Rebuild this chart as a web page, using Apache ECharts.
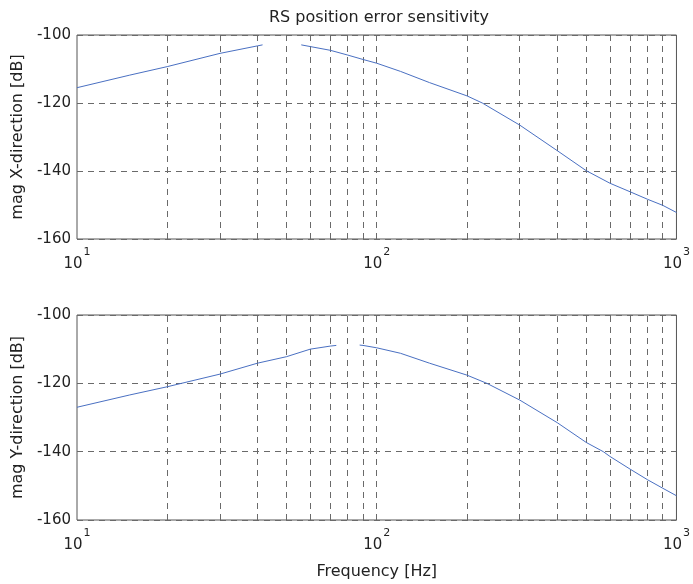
<!DOCTYPE html>
<html>
<head>
<meta charset="utf-8">
<script src="https://cdn.jsdelivr.net/npm/echarts@6/dist/echarts.min.js"></script>
<style>
html,body{margin:0;padding:0;background:#fff;}
#c{width:693px;height:584px;}
</style>
</head>
<body>
<div id="c"></div>
<script>
// ---- data ----
var titleText = 'RS position error sensitivity';
var yLabelTop = 'mag X-direction [dB]';
var yLabelBottom = 'mag Y-direction [dB]';
var xLabel = 'Frequency [Hz]';

// X-direction, segment before gap
var freqX1 = [10, 15, 20, 30, 40, 41.6];
var magX1  = [-115.5, -111.8, -109.3, -105.4, -103.2, -102.9];
// X-direction, segment after gap
var freqX2 = [56, 60, 70, 80, 90, 100, 120, 150, 200, 225, 300, 400, 500, 600, 700, 800, 900, 1000];
var magX2  = [-102.9, -103.4, -104.5, -105.9, -107.2, -108.3, -110.7, -114.0, -117.9, -120.0, -126.5, -134.0, -139.9, -143.6, -146.1, -148.3, -150.1, -152.2];

// Y-direction, segment before gap
var freqY1 = [10, 15, 20, 30, 40, 50, 60, 70, 73.3];
var magY1  = [-127.0, -123.4, -121.0, -117.3, -114.1, -112.2, -110.0, -109.1, -108.9];
// Y-direction, segment after gap
var freqY2 = [87.7, 90, 100, 120, 150, 200, 233, 300, 400, 500, 570, 600, 700, 800, 900, 1000];
var magY2  = [-108.8, -108.9, -109.6, -111.2, -114.1, -117.6, -120.0, -124.9, -131.5, -137.3, -140.0, -141.4, -145.1, -148.2, -150.7, -152.9];

// grid lines / ticks
var xGridValues = [20, 30, 40, 50, 60, 70, 80, 90, 100, 200, 300, 400, 500, 600, 700, 800, 900];
var yMin = -160, yMax = -100, yStep = 20;
var xMin = 10, xMax = 1000;

function pairs(xs, ys) { return xs.map(function (x, i) { return [x, ys[i]]; }); }

var FONT = 'DejaVu Sans';
var TXT = '#222';
var LINE = '#4a70c2';
var GRIDC = '#6a6a6a';

function xAxisCfg(idx, withName) {
  var a = {
    type: 'log', logBase: 10, gridIndex: idx, min: xMin, max: xMax,
    axisLine: {show: false},
    axisTick: {show: false},
    splitLine: {show: false},
    minorTick: {show: false},
    axisLabel: {
      margin: 8,
      color: TXT,
      formatter: function (v) { return '{b|10}{s|' + Math.round(Math.log10(v)) + '}'; },
      rich: {
        b: {fontFamily: FONT, fontSize: 15, color: TXT, verticalAlign: 'top', padding: [10, 0, 0, 0]},
        s: {fontFamily: FONT, fontSize: 11, color: TXT, verticalAlign: 'top', padding: [0, 0, 0, 1]}
      }
    }
  };
  if (withName) {
    a.name = xLabel;
    a.nameLocation = 'middle';
    a.nameGap = 44;
    a.nameTextStyle = {fontFamily: FONT, fontSize: 16, color: TXT};
  }
  return a;
}
function yAxisCfg(idx, name) {
  return {
    type: 'value', gridIndex: idx, min: yMin, max: yMax, interval: yStep,
    name: name, nameLocation: 'middle', nameGap: 43, nameRotate: 90,
    nameTextStyle: {fontFamily: FONT, fontSize: 16, color: TXT},
    axisLine: {show: false},
    axisTick: {show: false},
    axisLabel: {fontFamily: FONT, fontSize: 15, color: TXT, margin: 6},
    splitLine: {show: true, lineStyle: {color: GRIDC, type: [6, 5], width: 1}}
  };
}
function vGrid() {
  return {
    silent: true, symbol: ['none', 'none'], label: {show: false},
    lineStyle: {color: GRIDC, type: [6, 5], width: 1},
    data: xGridValues.map(function (v) { return {xAxis: v}; })
  };
}
function lineSeries(idx, data, mark) {
  var s = {
    type: 'line', xAxisIndex: idx, yAxisIndex: idx, data: data,
    showSymbol: false, symbol: 'none', smooth: false, animation: false,
    lineStyle: {color: LINE, width: 1}, itemStyle: {color: LINE}, z: 5
  };
  if (mark) s.markLine = vGrid();
  return s;
}

var chart = echarts.init(document.getElementById('c'), null, {renderer: 'canvas'});
chart.setOption({
  animation: false,
  backgroundColor: '#fff',
  title: {
    text: titleText, left: 374, textAlign: 'center', top: 5,
    textStyle: {fontFamily: FONT, fontSize: 16, fontWeight: 'normal', color: TXT}
  },
  grid: [
    {left: 77, top: 35, width: 604, height: 204, show: true, borderColor: '#555', borderWidth: 1, backgroundColor: 'transparent'},
    {left: 77, top: 315, width: 604, height: 205, show: true, borderColor: '#555', borderWidth: 1, backgroundColor: 'transparent'}
  ],
  xAxis: [xAxisCfg(0, false), xAxisCfg(1, true)],
  yAxis: [yAxisCfg(0, yLabelTop), yAxisCfg(1, yLabelBottom)],
  series: [
    lineSeries(0, pairs(freqX1, magX1), true),
    lineSeries(0, pairs(freqX2, magX2), false),
    lineSeries(1, pairs(freqY1, magY1), true),
    lineSeries(1, pairs(freqY2, magY2), false)
  ]
});
</script>
</body>
</html>
